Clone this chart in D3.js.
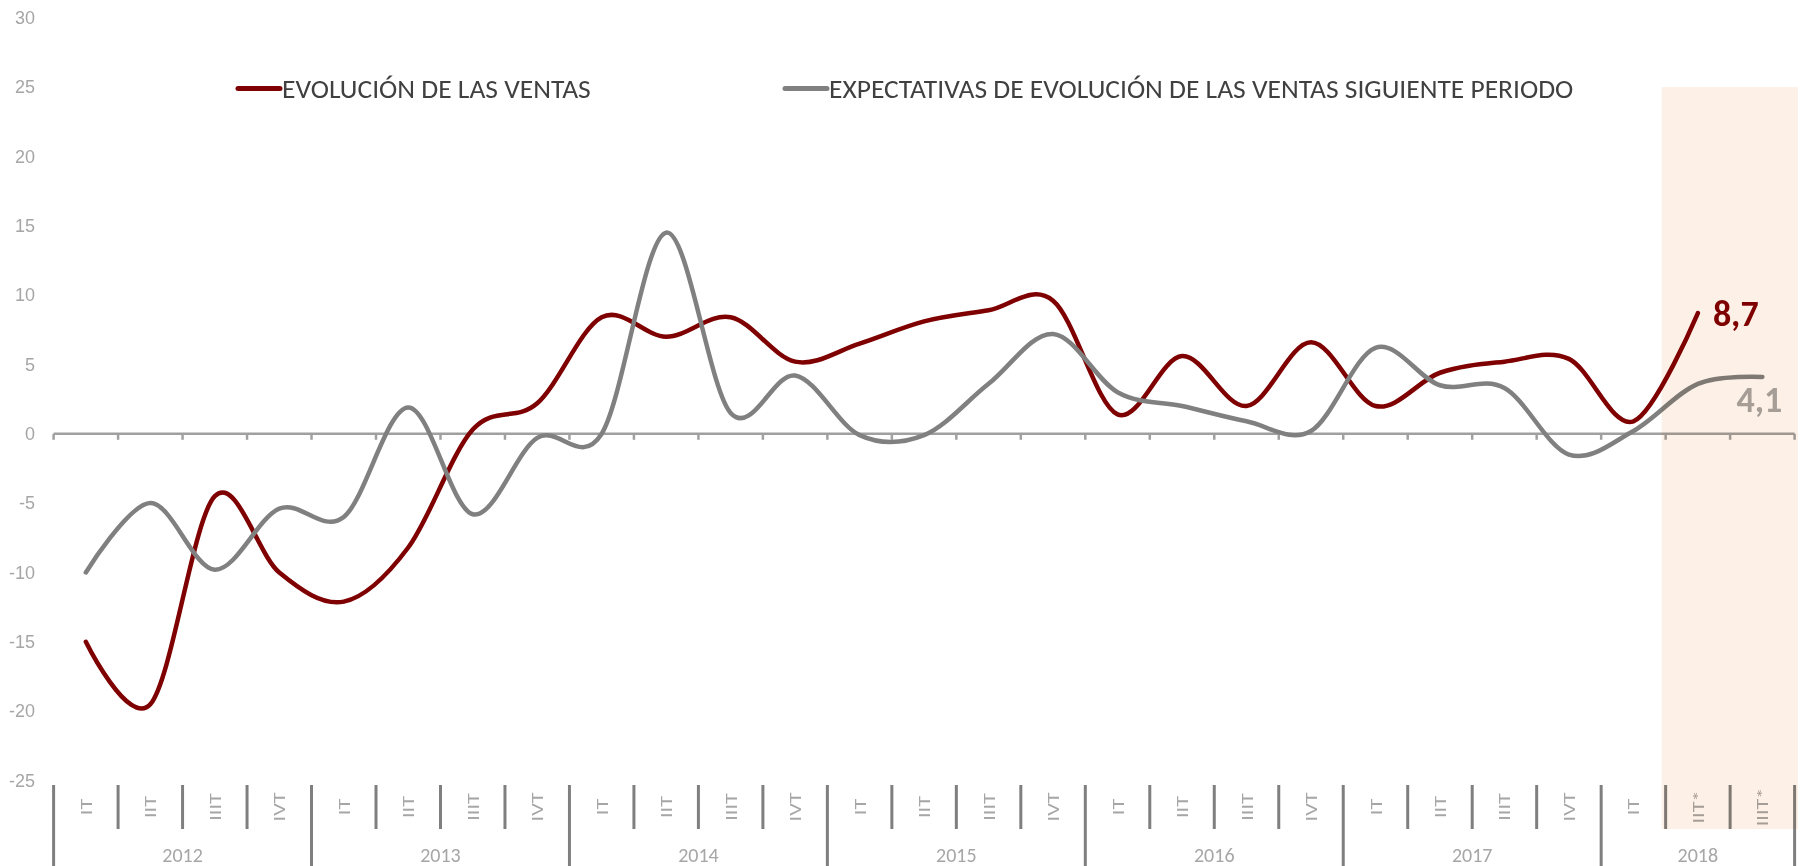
<!DOCTYPE html>
<html>
<head>
<meta charset="utf-8">
<script src="https://cdn.jsdelivr.net/npm/d3@7"></script>
<style>
  html, body { margin: 0; padding: 0; background: #fff; }
  svg { display: block; font-family: Calibri, Carlito, "Open Sans", sans-serif; }
</style>
</head>
<body>
<div id="chart"></div>
<script>
// quarter labels, 2012 IT ... 2018 IIIT*
const quarterLabels = [
    "IT", "IIT", "IIIT", "IVT",
    "IT", "IIT", "IIIT", "IVT",
    "IT", "IIT", "IIIT", "IVT",
    "IT", "IIT", "IIIT", "IVT",
    "IT", "IIT", "IIIT", "IVT",
    "IT", "IIT", "IIIT", "IVT",
    "IT", "IIT*", "IIIT*",
];
const yearLabels = ["2012", "2013", "2014", "2015", "2016", "2017", "2018"];
const quartersPerYear = [4, 4, 4, 4, 4, 4, 3];

const yTicks = [-25, -20, -15, -10, -5, 0, 5, 10, 15, 20, 25, 30];

const seriesNames = [
    "EVOLUCIÓN DE LAS VENTAS",
    "EXPECTATIVAS DE EVOLUCIÓN DE LAS VENTAS SIGUIENTE PERIODO",
];

// evolución de las ventas (ends at 2018 IIT*)
const ventas = [
    -15, -19.5, -4.5, -10,
    -12.1, -8.2, 0.3, 2.2,
    8.4, 7.0, 8.4, 5.2,
    6.5, 8.1, 8.9, 9.6,
    1.4, 5.6, 2.0, 6.6,
    2.0, 4.4, 5.2, 5.4,
    0.9, 8.7,
];

// expectativas siguiente periodo (ends at 2018 IIIT*)
const expectativas = [
    -10, -5, -9.8, -5.4,
    -6, 1.9, -5.8, -0.3,
    0, 14.5, 1.5, 4.2,
    -0.1, -0.1, 3.6, 7.2,
    3.0, 2.0, 0.9, 0.2,
    6.2, 3.5, 3.3, -1.5,
    0.2, 3.6, 4.1,
];

const lastLabels = ["8,7", "4,1"];
const colors = ["#7f0000", "#808080"];

const W = 1803, H = 866;

const svg = d3.select("#chart")
    .append("svg")
    .attr("width", W)
    .attr("height", H);

svg.append("rect").attr("width", W).attr("height", H).attr("fill", "#fff");

const x = d3.scaleBand()
    .domain(quarterLabels.map((d, i) => i))
    .range([53.6, 1794.6])
    .padding(0);

const y = d3.scaleLinear()
    .domain([-25, 30])
    .range([780.5, 17.7]);

const cx = (i) => x(i) + x.bandwidth() / 2;

// y axis (labels only, plain hyphen for negatives)
const yAxis = d3.axisLeft(y)
    .tickValues(yTicks)
    .tickFormat((d) => String(d))
    .tickSize(0)
    .tickPadding(0);
const yG = svg.append("g")
    .attr("transform", "translate(35,0)")
    .call(yAxis);
yG.select(".domain").remove();
yG.selectAll("text")
    .attr("fill", "#a6a6a6")
    .style("font-size", "18px")
    .style("font-family", null);

// zero line with tick marks on the category boundaries
const boundaries = d3.range(quarterLabels.length + 1).map((i) => x.range()[0] + i * x.step());

svg.append("line")
    .attr("x1", x.range()[0])
    .attr("x2", x.range()[1])
    .attr("y1", y(0))
    .attr("y2", y(0))
    .attr("stroke", "#a0a0a0")
    .attr("stroke-width", 2.5);

svg.append("g")
    .selectAll("line")
    .data(boundaries)
    .enter()
    .append("line")
    .attr("x1", (d) => d)
    .attr("x2", (d) => d)
    .attr("y1", y(0))
    .attr("y2", y(0) + 6)
    .attr("stroke", "#a0a0a0")
    .attr("stroke-width", 2.5);

// category axis: quarter row and year row
const rowTop = 785, rowMid = 829, rowBottom = 866;

const yearStarts = quartersPerYear.map((n, k) => d3.sum(quartersPerYear.slice(0, k)));
const yearEdges = yearStarts.concat([quarterLabels.length]);

svg.append("g")
    .selectAll("line")
    .data(boundaries)
    .enter()
    .append("line")
    .attr("x1", (d) => d)
    .attr("x2", (d) => d)
    .attr("y1", rowTop)
    .attr("y2", (d, i) => (yearEdges.includes(i) ? rowBottom : rowMid))
    .attr("stroke", "#7f7f7f")
    .attr("stroke-width", 3);

svg.append("g")
    .selectAll("text")
    .data(quarterLabels)
    .enter()
    .append("text")
    .attr("transform", (d, i) => `translate(${cx(i)},${(rowTop + rowMid) / 2}) rotate(-90) scale(1.3,1)`)
    .attr("text-anchor", "middle")
    .attr("dominant-baseline", "central")
    .attr("fill", "#a6a6a6")
    .style("font-size", "17px")
    .text((d) => d);

svg.append("g")
    .selectAll("text")
    .data(yearLabels)
    .enter()
    .append("text")
    .attr("x", (d, k) => (boundaries[yearEdges[k]] + boundaries[yearEdges[k + 1]]) / 2)
    .attr("y", 862)
    .attr("text-anchor", "middle")
    .attr("fill", "#a6a6a6")
    .style("font-size", "20px")
    .text((d) => d);

// series lines
const line = d3.line()
    .x((d, i) => cx(i))
    .y((d) => y(d))
    .curve(d3.curveCatmullRom.alpha(0));

svg.append("g")
    .selectAll("path")
    .data([ventas, expectativas])
    .enter()
    .append("path")
    .attr("d", (d) => line(d))
    .attr("fill", "none")
    .attr("stroke", (d, i) => colors[i])
    .attr("stroke-width", 4.5)
    .attr("stroke-linecap", "round")
    .attr("stroke-linejoin", "round");

// last value labels
const lv = ventas.length - 1, le = expectativas.length - 1;
svg.append("text")
    .attr("x", cx(lv) + 15)
    .attr("y", y(ventas[lv]) + 12.5)
    .attr("fill", colors[0])
    .style("font-size", "36px")
    .style("font-weight", "bold")
    .text(lastLabels[0]);

svg.append("text")
    .attr("x", cx(le) - 3)
    .attr("y", y(expectativas[le]) + 35)
    .attr("text-anchor", "middle")
    .attr("fill", "#a6a6a6")
    .style("font-size", "36px")
    .style("font-weight", "bold")
    .text(lastLabels[1]);

// legend
const legendItems = [
    { name: seriesNames[0], color: colors[0], x: 238 },
    { name: seriesNames[1], color: colors[1], x: 785 },
];
const legendY = 88.5;
const legend = svg.append("g")
    .selectAll("g")
    .data(legendItems)
    .enter()
    .append("g")
    .attr("transform", (d) => `translate(${d.x},${legendY})`);

legend.append("line")
    .attr("x1", 0)
    .attr("x2", 42)
    .attr("stroke", (d) => d.color)
    .attr("stroke-width", 5)
    .attr("stroke-linecap", "round");

legend.append("text")
    .attr("x", 44)
    .attr("y", 9)
    .attr("fill", "#404040")
    .style("font-size", "27.5px")
    .text((d) => d.name);

// forecast shading (categories marked with *)
const firstForecast = quarterLabels.findIndex((d) => d.includes("*"));
svg.append("rect")
    .attr("x", boundaries[firstForecast] - 4)
    .attr("y", y(25))
    .attr("width", W - 5 - boundaries[firstForecast] + 4)
    .attr("height", rowMid - y(25))
    .attr("fill", "#fdf1e7")
    .style("mix-blend-mode", "multiply");
</script>
</body>
</html>
